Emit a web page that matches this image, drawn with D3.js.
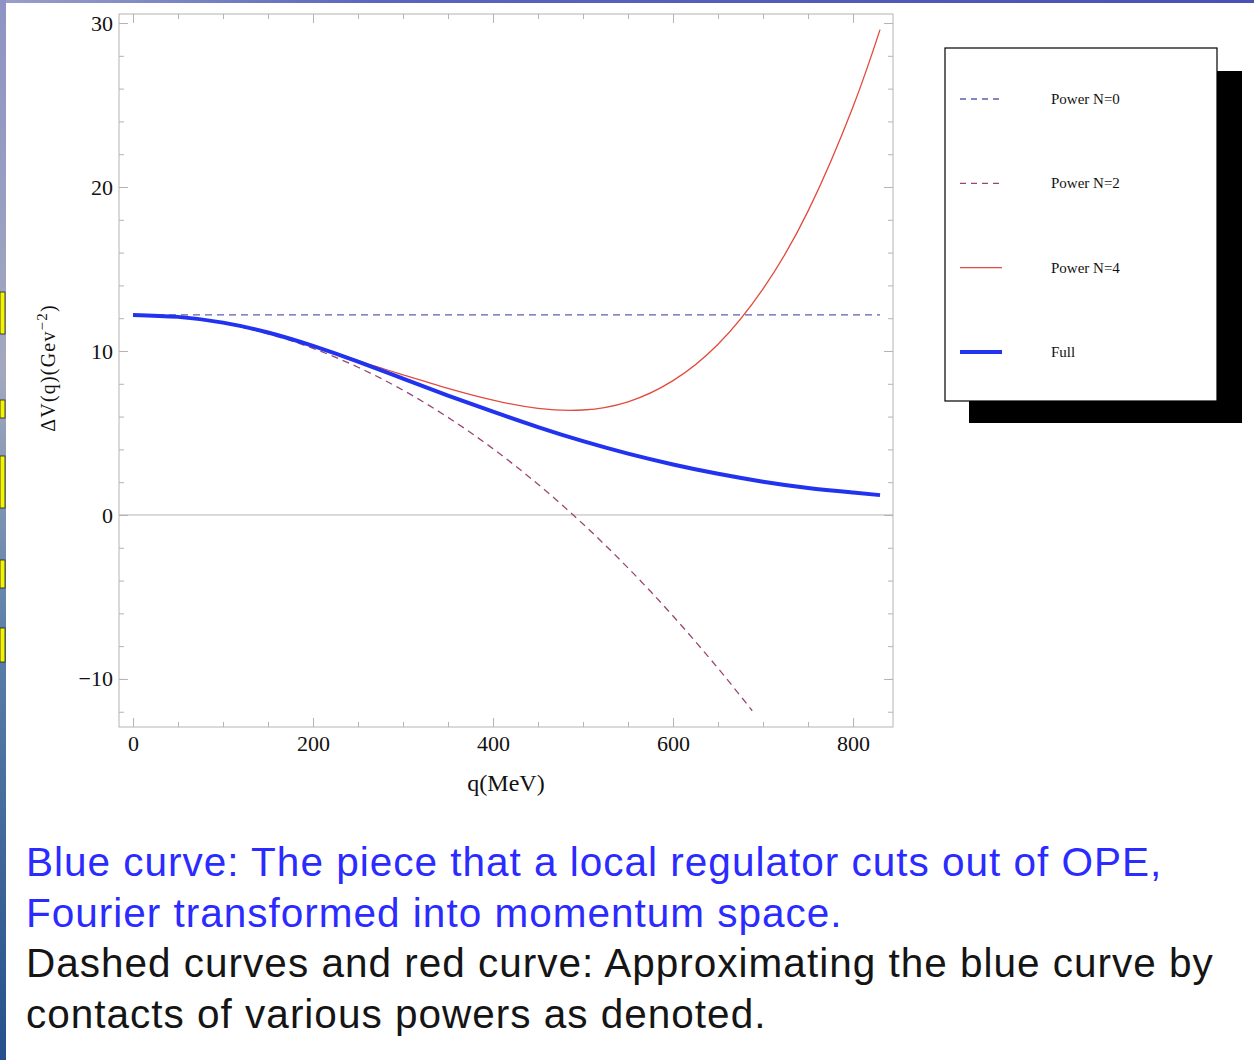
<!DOCTYPE html>
<html>
<head>
<meta charset="utf-8">
<script src="https://cdn.jsdelivr.net/npm/d3@7"></script>
<style>
  body { margin: 0; background: #fff; }
  svg { display: block; }
</style>
</head>
<body>
<div id="chart"></div>
<script>
const width = 1254;
const height = 1060;

// frame of the plot, in pixels
const frameLeft = 119;
const frameRight = 893;
const frameTop = 14;
const frameBottom = 727;

// values
const qFull = [0, 50, 100, 150, 200, 250, 300, 350, 400, 450, 500, 550, 600, 650, 700, 750, 800, 830];
const vFull = [12.2, 12.08, 11.73, 11.13, 10.31, 9.35, 8.31, 7.28, 6.3, 5.36, 4.5, 3.74, 3.08, 2.51, 2.03, 1.65, 1.37, 1.21];

const qPow0 = [0, 830];
const vPow0 = [12.2, 12.2];

const qPow2 = [0, 50, 100, 150, 200, 250, 300, 350, 400, 450, 500, 550, 600, 650, 688];
const vPow2 = [12.2, 12.07, 11.69, 11.05, 10.16, 9.01, 7.61, 5.95, 4.04, 1.87, -0.55, -3.23, -6.16, -9.35, -11.94];

const qPow4 = [0, 50, 100, 150, 200, 250, 300, 350, 400, 450, 500, 550, 600, 650, 700, 750, 800, 830];
const vPow4 = [12.2, 12.07, 11.72, 11.12, 10.35, 9.42, 8.55, 7.72, 7.0, 6.5, 6.4, 6.9, 8.19, 10.41, 13.79, 18.53, 24.9, 29.6];

const xMajor = [0, 200, 400, 600, 800];
const xMinor = [0, 50, 100, 150, 200, 250, 300, 350, 400, 450, 500, 550, 600, 650, 700, 750, 800];
const yMajor = [-10, 0, 10, 20, 30];
const yMinor = [-12, -10, -8, -6, -4, -2, 0, 2, 4, 6, 8, 10, 12, 14, 16, 18, 20, 22, 24, 26, 28, 30];

const legendNames = ['Power N=0', 'Power N=2', 'Power N=4', 'Full'];

const captionBlue = [
    'Blue curve: The piece that a local regulator cuts out of OPE,',
    'Fourier transformed into momentum space.'
];
const captionBlack = [
    'Dashed curves and red curve: Approximating the blue curve by',
    'contacts of various powers as denoted.'
];

const series = [
    { name: legendNames[0], q: qPow0, v: vPow0, color: '#5b5fae', width: 1.3, dash: '7,5' },
    { name: legendNames[1], q: qPow2, v: vPow2, color: '#9a4674', width: 1.3, dash: '7,5' },
    { name: legendNames[2], q: qPow4, v: vPow4, color: '#e24a3e', width: 1.3, dash: null },
    { name: legendNames[3], q: qFull, v: vFull, color: '#2233f0', width: 4, dash: null },
];

const svg = d3.select('#chart')
    .append('svg')
    .attr('width', width)
    .attr('height', height);

const defs = svg.append('defs');

// slide background bits
const sideGrad = defs.append('linearGradient')
    .attr('id', 'side')
    .attr('x1', 0).attr('y1', 0).attr('x2', 0).attr('y2', 1);
sideGrad.append('stop').attr('offset', '0%').attr('stop-color', '#8f93c4');
sideGrad.append('stop').attr('offset', '35%').attr('stop-color', '#a3a8bf');
sideGrad.append('stop').attr('offset', '60%').attr('stop-color', '#5b7fa8');
sideGrad.append('stop').attr('offset', '100%').attr('stop-color', '#25508c');

const topGrad = defs.append('linearGradient')
    .attr('id', 'topband')
    .attr('x1', 0).attr('y1', 0).attr('x2', 1).attr('y2', 0);
topGrad.append('stop').attr('offset', '0%').attr('stop-color', '#9aa0c8');
topGrad.append('stop').attr('offset', '30%').attr('stop-color', '#5a66bc');
topGrad.append('stop').attr('offset', '100%').attr('stop-color', '#4752b4');

svg.append('rect')
    .attr('x', 0).attr('y', 0)
    .attr('width', width).attr('height', 3)
    .attr('fill', 'url(#topband)');

svg.append('rect')
    .attr('x', 0).attr('y', 0)
    .attr('width', 6).attr('height', height)
    .attr('fill', 'url(#side)');

// yellow bits of the neighbouring slide text
const yellowBits = [[292, 334], [400, 418], [456, 508], [560, 588], [628, 662]];
svg.selectAll('.ybit')
    .data(yellowBits)
    .enter()
    .append('rect')
    .attr('class', 'ybit')
    .attr('x', 0)
    .attr('y', (d) => d[0])
    .attr('width', 5)
    .attr('height', (d) => d[1] - d[0])
    .attr('fill', '#f4f400')
    .attr('stroke', '#222')
    .attr('stroke-width', 0.8);

// scales
const x = d3.scaleLinear()
    .domain([-15.56, 844.4])
    .range([frameLeft, frameRight]);

const y = d3.scaleLinear()
    .domain([-12.93, 30.55])
    .range([frameBottom, frameTop]);

const frameColor = '#b4b4b4';
const serif = '"Liberation Serif", "DejaVu Serif", serif';
const minus = (d) => (d < 0 ? '\u2212' + Math.abs(d) : String(d));

// zero axis line
svg.append('line')
    .attr('x1', frameLeft).attr('x2', frameRight)
    .attr('y1', y(0)).attr('y2', y(0))
    .attr('stroke', frameColor)
    .attr('stroke-width', 1);

// frame ticks (inward)
function styleAxis(g) {
    g.select('.domain').remove();
    g.selectAll('.tick line').attr('stroke', frameColor);
    g.selectAll('.tick text')
        .style('font-family', serif)
        .style('font-size', '22px')
        .attr('fill', '#111');
}

svg.append('g')
    .attr('transform', `translate(${frameLeft},0)`)
    .call(d3.axisLeft(y).tickValues(yMinor).tickSize(-5).tickFormat(''))
    .call(styleAxis);
svg.append('g')
    .attr('transform', `translate(${frameLeft},0)`)
    .call(d3.axisLeft(y).tickValues(yMajor).tickSize(-9).tickPadding(6).tickFormat(minus))
    .call(styleAxis);

svg.append('g')
    .attr('transform', `translate(${frameRight},0)`)
    .call(d3.axisRight(y).tickValues(yMinor).tickSize(-5).tickFormat(''))
    .call(styleAxis);
svg.append('g')
    .attr('transform', `translate(${frameRight},0)`)
    .call(d3.axisRight(y).tickValues(yMajor).tickSize(-9).tickFormat(''))
    .call(styleAxis);

svg.append('g')
    .attr('transform', `translate(0,${frameBottom})`)
    .call(d3.axisBottom(x).tickValues(xMinor).tickSize(-5).tickFormat(''))
    .call(styleAxis);
svg.append('g')
    .attr('transform', `translate(0,${frameBottom})`)
    .call(d3.axisBottom(x).tickValues(xMajor).tickSize(-9).tickPadding(8).tickFormat(minus))
    .call(styleAxis);

svg.append('g')
    .attr('transform', `translate(0,${frameTop})`)
    .call(d3.axisTop(x).tickValues(xMinor).tickSize(-5).tickFormat(''))
    .call(styleAxis);
svg.append('g')
    .attr('transform', `translate(0,${frameTop})`)
    .call(d3.axisTop(x).tickValues(xMajor).tickSize(-9).tickFormat(''))
    .call(styleAxis);

svg.append('rect')
    .attr('x', frameLeft).attr('y', frameTop)
    .attr('width', frameRight - frameLeft)
    .attr('height', frameBottom - frameTop)
    .attr('fill', 'none')
    .attr('stroke', frameColor)
    .attr('stroke-width', 1);

// curves
defs.append('clipPath')
    .attr('id', 'plotclip')
    .append('rect')
    .attr('x', frameLeft).attr('y', frameTop)
    .attr('width', frameRight - frameLeft)
    .attr('height', frameBottom - frameTop);

const line = d3.line()
    .x((d) => x(d[0]))
    .y((d) => y(d[1]))
    .curve(d3.curveNatural);

svg.append('g')
    .attr('clip-path', 'url(#plotclip)')
    .selectAll('path')
    .data(series)
    .enter()
    .append('path')
    .attr('d', (s) => line(s.q.map((q, i) => [q, s.v[i]])))
    .attr('fill', 'none')
    .attr('stroke', (s) => s.color)
    .attr('stroke-width', (s) => s.width)
    .attr('stroke-dasharray', (s) => s.dash)
    .attr('stroke-linecap', 'butt');

// axis labels
const yLabel = svg.append('text')
    .attr('transform', 'translate(55,368) rotate(-90)')
    .style('text-anchor', 'middle')
    .style('font-family', serif)
    .style('font-size', '20px')
    .style('letter-spacing', '1.2px')
    .attr('fill', '#111');
yLabel.append('tspan').text('\u0394V(q)(Gev');
yLabel.append('tspan').attr('dy', -8).style('font-size', '15px').text('\u22122');
yLabel.append('tspan').attr('dy', 8).text(')');

svg.append('text')
    .attr('x', 506)
    .attr('y', 791)
    .text('q(MeV)')
    .style('text-anchor', 'middle')
    .style('font-family', serif)
    .style('font-size', '24px')
    .attr('fill', '#111');

// legend
const legend = svg.append('g').attr('class', 'legend');
legend.append('rect')
    .attr('x', 969).attr('y', 71)
    .attr('width', 273).attr('height', 352)
    .attr('fill', '#000');
legend.append('rect')
    .attr('x', 945).attr('y', 48)
    .attr('width', 272).attr('height', 353)
    .attr('fill', '#fff')
    .attr('stroke', '#000')
    .attr('stroke-width', 1.2);

const legendY = d3.scalePoint()
    .domain(legendNames)
    .range([99, 352]);

const items = legend.selectAll('.item')
    .data(series)
    .enter()
    .append('g')
    .attr('class', 'item')
    .attr('transform', (s) => `translate(0,${legendY(s.name)})`);

items.append('line')
    .attr('x1', 960).attr('x2', 1002)
    .attr('y1', 0).attr('y2', 0)
    .attr('stroke', (s) => s.color)
    .attr('stroke-width', (s) => s.width)
    .attr('stroke-dasharray', (s) => (s.dash ? '6,5' : null));

items.append('text')
    .attr('x', 1051)
    .attr('y', 5)
    .text((s) => s.name)
    .style('font-family', serif)
    .style('font-size', '15px')
    .attr('fill', '#111');

// caption
const sans = '"Liberation Sans", Arial, sans-serif';
svg.selectAll('.capblue')
    .data(captionBlue)
    .enter()
    .append('text')
    .attr('class', 'capblue')
    .attr('x', 26)
    .attr('y', (d, i) => 876 + i * 50.7)
    .text((d) => d)
    .style('font-family', sans)
    .style('font-size', '40.5px')
    .style('letter-spacing', '1px')
    .attr('fill', '#2b2bff');

svg.selectAll('.capblack')
    .data(captionBlack)
    .enter()
    .append('text')
    .attr('class', 'capblack')
    .attr('x', 26)
    .attr('y', (d, i) => 977 + i * 50.7)
    .text((d) => d)
    .style('font-family', sans)
    .style('font-size', '40.5px')
    .style('letter-spacing', '1px')
    .attr('fill', '#151515');
</script>
</body>
</html>
